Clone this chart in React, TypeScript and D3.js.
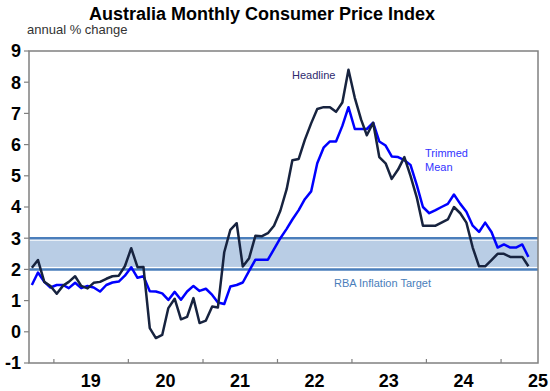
import React from 'react';
import * as d3 from 'd3';

// monthly annual % change, Sep 2018 .. May 2025
const headline = [
  2.05, 2.3, 1.6, 1.47, 1.22, 1.48, 1.6, 1.78, 1.47, 1.39, 1.57, 1.6,
  1.7, 1.78, 1.8, 2.1, 2.68, 2.07, 2.08, 0.12, -0.2, -0.1, 0.76, 1.06,
  0.4, 0.48, 1.08, 0.28, 0.36, 0.81, 0.78, 2.55, 3.27, 3.48, 2.09, 2.36,
  3.08, 3.06, 3.16, 3.4, 3.88, 4.57, 5.5, 5.54, 6.15, 6.68, 7.14, 7.2,
  7.2, 7.05, 7.35, 8.4, 7.5, 6.8, 6.3, 6.7, 5.6, 5.4, 4.9, 5.2,
  5.6, 5.0, 4.3, 3.4, 3.4, 3.4, 3.5, 3.6, 4.0, 3.8, 3.5, 2.7,
  2.1, 2.1, 2.3, 2.5, 2.5, 2.4, 2.4, 2.4, 2.1,
];

const trimmedMean = [
  1.5, 1.9, 1.6, 1.42, 1.5, 1.5, 1.4, 1.57, 1.4, 1.47, 1.42, 1.29,
  1.5, 1.58, 1.61, 1.8, 2.07, 1.73, 1.78, 1.3, 1.29, 1.23, 1.02, 1.28,
  1.03, 1.29, 1.47, 1.31, 1.38, 1.18, 0.94, 0.89, 1.45, 1.5, 1.58, 1.95,
  2.31, 2.31, 2.31, 2.65, 3.0, 3.3, 3.6, 3.9, 4.25, 4.5, 5.4, 5.9,
  6.1, 6.1, 6.6, 7.2, 6.5, 6.5, 6.5, 6.7, 6.1, 5.97, 5.62, 5.6,
  5.5, 5.35, 4.7, 4.0, 3.8, 3.9, 4.0, 4.1, 4.4, 4.1, 3.85, 3.4,
  3.2, 3.5, 3.2, 2.7, 2.8, 2.7, 2.7, 2.8, 2.4,
];

const yTicks = [-1, 0, 1, 2, 3, 4, 5, 6, 7, 8, 9];
const years = [2019, 2020, 2021, 2022, 2023, 2024, 2025];
const yearLabels = ['19', '20', '21', '22', '23', '24', '25'];
const target = [2, 3];

const months = d3.timeMonth.range(new Date(2018, 8, 1), new Date(2025, 5, 1));

const W = 550;
const H = 391;
const left = 29;
const right = 538;
const top = 51;
const bottom = 363;

const font = '"Liberation Sans", Arial, sans-serif';

export default function App() {
  const x = d3.scaleTime()
    .domain([new Date(2018, 8, 1), new Date(2025, 6, 1)])
    .range([left, right]);
  const y = d3.scaleLinear().domain([-1, 9]).range([bottom, top]);

  const mid = (d: Date) => x(d3.timeDay.offset(d, 14));
  const line = d3.line<number>()
    .x((_, i) => mid(months[i]))
    .y(v => y(v));

  const bandTop = y(target[1]);
  const bandBot = y(target[0]);

  return (
    <svg width={W} height={H} style={{ position: 'absolute', left: 0, top: 0, background: '#fff' }}
      fontFamily={font}>
      <text x={262} y={20} textAnchor="middle" fontSize={18} fontWeight="bold" fill="#000">
        Australia Monthly Consumer Price Index
      </text>
      <text x={27} y={34} fontSize={13} fill="#333">annual % change</text>

      {/* target band */}
      <rect x={left} y={bandTop + 2.5} width={right - left} height={bandBot - bandTop - 5} fill="#b9cde5" />
      <line x1={left} x2={right} y1={bandTop} y2={bandTop} stroke="#4a7ebb" strokeWidth={2.5} />
      <line x1={left} x2={right} y1={bandBot} y2={bandBot} stroke="#4a7ebb" strokeWidth={2.5} />

      {/* frame */}
      <rect x={left} y={top} width={right - left} height={bottom - top} fill="none" stroke="#808080" strokeWidth={1.5} />

      {/* y axis */}
      {yTicks.map(t => (
        <g key={t}>
          <line x1={left - 5} x2={left} y1={y(t)} y2={y(t)} stroke="#808080" strokeWidth={1.2} />
          <text x={21} y={y(t)} dy="0.35em" textAnchor="end" fontSize={18} fontWeight="bold" fill="#000">{t}</text>
        </g>
      ))}

      {/* x axis */}
      {years.map((yr, i) => (
        <g key={yr}>
          <line x1={x(new Date(yr, 0, 1))} x2={x(new Date(yr, 0, 1))} y1={bottom} y2={bottom - 4} stroke="#808080" strokeWidth={1.2} />
          <text x={x(new Date(yr, 6, 1))} y={387} textAnchor="middle" fontSize={18} fontWeight="bold" fill="#000">
            {yearLabels[i]}
          </text>
        </g>
      ))}

      {/* series */}
      <path d={line(trimmedMean) || ''} fill="none" stroke="#0000ff" strokeWidth={2.5} strokeLinejoin="round" />
      <path d={line(headline) || ''} fill="none" stroke="#17233f" strokeWidth={2.5} strokeLinejoin="round" />

      <text x={292} y={79} fontSize={11} fill="#2e2a6e">Headline</text>
      <text x={425} y={157} fontSize={11} fill="#3333ff">Trimmed</text>
      <text x={425} y={171} fontSize={11} fill="#3333ff">Mean</text>
      <text x={334} y={287} fontSize={11} fill="#4a7ebb">RBA Inflation Target</text>
    </svg>
  );
}
